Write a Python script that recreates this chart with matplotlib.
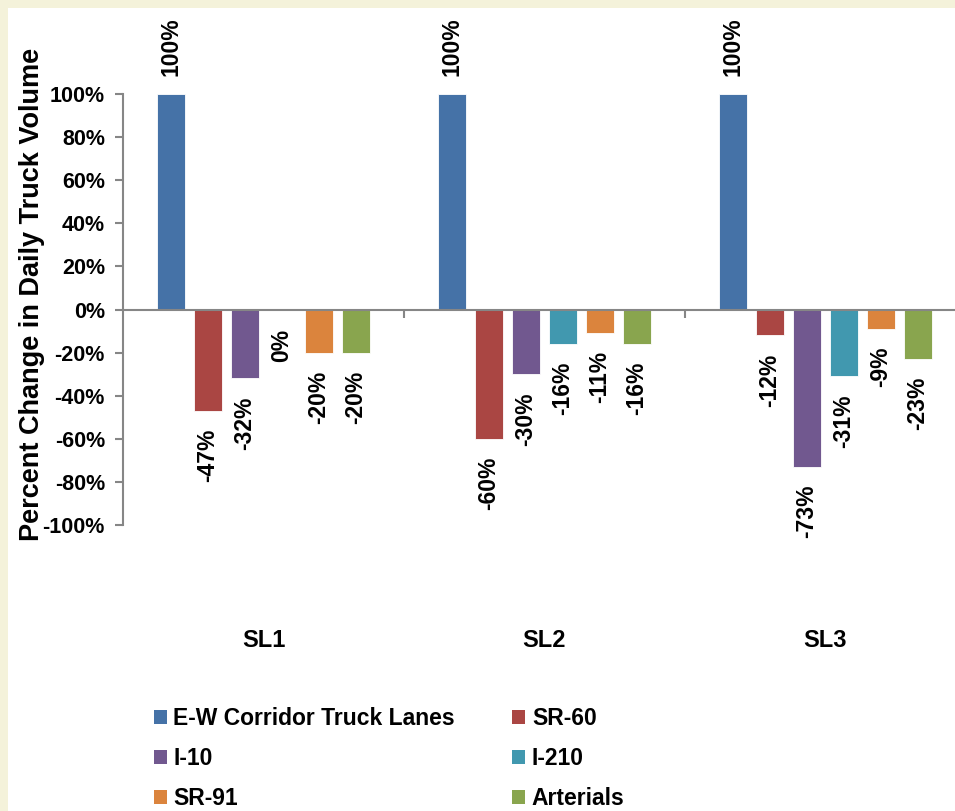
import numpy as np
import matplotlib
matplotlib.use("Agg")
import matplotlib.pyplot as plt
from matplotlib.patches import Rectangle, Patch

plt.rcParams['font.family'] = ['Liberation Sans', 'DejaVu Sans']
plt.rcParams['font.weight'] = 'bold'

# data
scenarios = ['SL1', 'SL2', 'SL3']
series = ['E-W Corridor Truck Lanes', 'SR-60', 'I-10', 'I-210', 'SR-91', 'Arterials']
values = {
    'E-W Corridor Truck Lanes': [100, 100, 100],
    'SR-60': [-47, -60, -12],
    'I-10': [-32, -30, -73],
    'I-210': [-0.4, -16, -31],
    'SR-91': [-20, -11, -9],
    'Arterials': [-20, -16, -23],
}
colors = ['#4572A7', '#AA4643', '#71588F', '#4198AF', '#DB843D', '#89A54E']
y_ticks = [-100, -80, -60, -40, -20, 0, 20, 40, 60, 80, 100]

W, H = 955, 811
fig = plt.figure(figsize=(W / 100, H / 100), dpi=100)
fig.patch.set_facecolor('#F4F2DA')
fig.patches.append(Rectangle((8 / W, 0), 1, 1 - 8 / H, transform=fig.transFigure,
                             facecolor='white', edgecolor='none', zorder=-5))

ax = fig.add_axes([123 / W, (H - 525) / H, (966 - 123) / W, (525 - 94) / H])
ax.set_zorder(2)
ax.patch.set_alpha(0)

x = np.arange(len(scenarios))
step = 0.1317
width = 0.0996
for i, (name, col) in enumerate(zip(series, colors)):
    pos = x + (i - 2.5) * step
    vals = values[name]
    ax.bar(pos, vals, width, color=col, edgecolor='#ffffff', linewidth=0.6, label=name, zorder=2)
    for px, v in zip(pos, vals):
        off = 13 if v >= 0 else -13
        ax.annotate(f'{int(round(v))}%', (px, v), xytext=(0, off), textcoords='offset points',
                    rotation=90, ha='center', va='bottom' if v >= 0 else 'top',
                    fontsize=16.5, fontweight='bold', annotation_clip=False)

ax.set_xlim(-0.5, len(scenarios) - 0.5)
ax.set_ylim(-100, 100)
ax.set_yticks(y_ticks)
ax.set_yticklabels([f'{t}%' for t in y_ticks], fontsize=15.5, fontweight='bold')
ax.set_xticks([0.5, 1.5])
ax.set_xticklabels([])

for s in ['top', 'right']:
    ax.spines[s].set_visible(False)
ax.spines['bottom'].set_position(('data', 0))
for s in ['left', 'bottom']:
    ax.spines[s].set_color('#868686')
    ax.spines[s].set_linewidth(1.5)
ax.tick_params(axis='y', direction='out', length=6, width=1.5, color='#868686', pad=7)
ax.tick_params(axis='x', direction='out', length=6, width=1.5, color='#868686')

for xi, lab in zip(x, scenarios):
    ax.text(xi, -0.269, lab, transform=ax.get_xaxis_transform(), ha='center', va='center',
            fontsize=17, fontweight='bold')

ax.set_ylabel('Percent Change in Daily Truck Volume', fontsize=19.5, fontweight='bold')
ax.yaxis.set_label_coords(-(123 - 45) / (966 - 123), 0.5 + (310 - 295) / 431)

handles = [Patch(facecolor=c, edgecolor='none') for c in colors]
order = [0, 2, 4, 1, 3, 5]
fig.legend([handles[i] for i in order], [series[i] for i in order], ncol=2,
           loc='upper left', bbox_to_anchor=(154 / W, (H - 707) / H), frameon=False,
           borderpad=0, borderaxespad=0, handlelength=0.55, handleheight=0.55,
           handletextpad=0.3, columnspacing=2.5, labelspacing=0.75,
           prop={'size': 16.5, 'weight': 'bold'})

fig.savefig('out.png', dpi=100, facecolor=fig.get_facecolor())
